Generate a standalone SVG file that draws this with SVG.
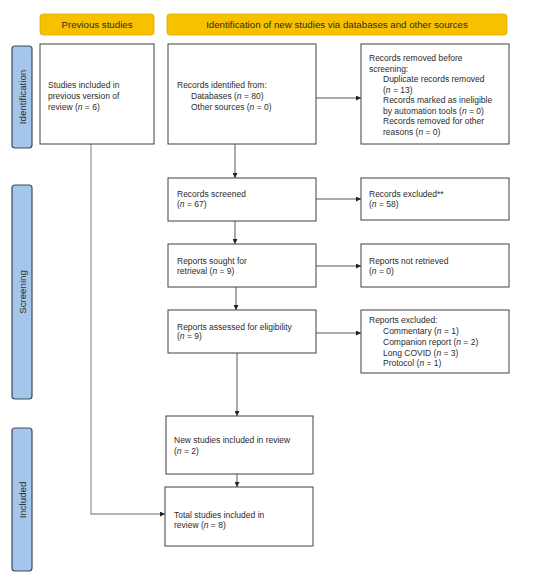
<svg xmlns="http://www.w3.org/2000/svg" width="536" height="583" viewBox="0 0 536 583">
<defs>
<style>
text{font-family:"Liberation Sans",Arial,sans-serif;font-size:8.5px;fill:#2b2b2b}
.hdr{fill:#f7c100;stroke:#e0aa00;stroke-width:0.8}
.side{fill:#a4c6ea;stroke:#3c4a5a;stroke-width:1.2}
.box{fill:#fff;stroke:#404040;stroke-width:1}
.c{fill:none;stroke:#444;stroke-width:0.9}
.g{fill:none;stroke:#9a9a9a;stroke-width:1.3}
.m{text-anchor:middle}
.big{font-size:9.7px}
</style>
<marker id="ah" viewBox="0 0 10 10" refX="10" refY="5" markerWidth="5" markerHeight="5" orient="auto" markerUnits="userSpaceOnUse">
<path d="M0,0 L10,5 L0,10 z" fill="#222"/>
</marker>
</defs>
<rect width="536" height="583" fill="#fff"/>

<g id="hdr-prev"><rect class="hdr" x="40" y="14" width="114" height="21" rx="3"/><text class="m big" x="97" y="28">Previous studies</text></g>
<g id="hdr-new"><rect class="hdr" x="167" y="14" width="340" height="21" rx="3"/><text class="m big" x="337" y="28">Identification of new studies via databases and other sources</text></g>

<g id="side-ident"><rect class="side" x="12" y="46" width="20" height="102" rx="3"/><text class="m big" transform="translate(25.5,97) rotate(-90)">Identification</text></g>
<g id="side-screen"><rect class="side" x="12" y="185" width="20" height="214" rx="3"/><text class="m big" transform="translate(25.5,292) rotate(-90)">Screening</text></g>
<g id="side-incl"><rect class="side" x="12" y="428" width="20" height="143" rx="3"/><text class="m big" transform="translate(25.5,500) rotate(-90)">Included</text></g>

<g id="connectors">
<path class="c" d="M316,98 H361" marker-end="url(#ah)"/>
<path class="c" d="M235,144 V178" marker-end="url(#ah)"/>
<path class="c" d="M316,199 H361" marker-end="url(#ah)"/>
<path class="c" d="M235,221 V244" marker-end="url(#ah)"/>
<path class="c" d="M316,266 H361" marker-end="url(#ah)"/>
<path class="c" d="M236,287 V310" marker-end="url(#ah)"/>
<path class="c" d="M316,333 H361" marker-end="url(#ah)"/>
<path class="c" d="M237,353 V416" marker-end="url(#ah)"/>
<path class="c" d="M237,474 V487" marker-end="url(#ah)"/>
<path class="g" d="M91,144 V514 H165" marker-end="url(#ah)"/>
</g>

<g id="prev-studies"><rect class="box" x="40" y="44" width="114" height="100"/>
<text x="48" y="87.5">Studies included in</text><text x="48" y="98.5">previous version of</text><text x="48" y="109.5">review (<tspan font-style="italic">n</tspan> = 6)</text></g>

<g id="records-identified"><rect class="box" x="168" y="44" width="148" height="100"/>
<text x="177" y="87.5">Records identified from:</text><text x="191" y="98.5">Databases (<tspan font-style="italic">n</tspan> = 80)</text><text x="191" y="109.5">Other sources (<tspan font-style="italic">n</tspan> = 0)</text></g>

<g id="records-removed"><rect class="box" x="361" y="44" width="148" height="100"/>
<text x="369" y="61">Records removed before</text><text x="369" y="71.5">screening:</text>
<text x="383" y="82">Duplicate records removed</text><text x="383" y="92.5">(<tspan font-style="italic">n</tspan> = 13)</text>
<text x="383" y="103">Records marked as ineligible</text><text x="383" y="113.5">by automation tools (<tspan font-style="italic">n</tspan> = 0)</text>
<text x="383" y="124">Records removed for other</text><text x="383" y="134.5">reasons (<tspan font-style="italic">n</tspan> = 0)</text></g>

<g id="records-screened"><rect class="box" x="168" y="178" width="148" height="43"/>
<text x="177" y="197">Records screened</text><text x="177" y="207">(<tspan font-style="italic">n</tspan> = 67)</text></g>

<g id="records-excluded"><rect class="box" x="361" y="178" width="148" height="42"/>
<text x="369" y="197">Records excluded**</text><text x="369" y="207">(<tspan font-style="italic">n</tspan> = 58)</text></g>

<g id="reports-sought"><rect class="box" x="168" y="244" width="148" height="43"/>
<text x="177" y="264">Reports sought for</text><text x="177" y="273.5">retrieval (<tspan font-style="italic">n</tspan> = 9)</text></g>

<g id="reports-not-retrieved"><rect class="box" x="361" y="244" width="148" height="43"/>
<text x="369" y="264">Reports not retrieved</text><text x="369" y="274">(<tspan font-style="italic">n</tspan> = 0)</text></g>

<g id="reports-assessed"><rect class="box" x="168" y="310" width="148" height="43"/>
<text x="177" y="329.5">Reports assessed for eligibility</text><text x="177" y="338.5">(<tspan font-style="italic">n</tspan> = 9)</text></g>

<g id="reports-excluded"><rect class="box" x="361" y="310" width="148" height="63"/>
<text x="369" y="323">Reports excluded:</text>
<text x="383" y="334">Commentary (<tspan font-style="italic">n</tspan> = 1)</text>
<text x="383" y="345">Companion report (<tspan font-style="italic">n</tspan> = 2)</text>
<text x="383" y="355.5">Long COVID (<tspan font-style="italic">n</tspan> = 3)</text>
<text x="383" y="366">Protocol (<tspan font-style="italic">n</tspan> = 1)</text></g>

<g id="new-studies"><rect class="box" x="166" y="416" width="147" height="58"/>
<text x="174" y="443">New studies included in review</text><text x="174" y="453.5">(<tspan font-style="italic">n</tspan> = 2)</text></g>

<g id="total-studies"><rect class="box" x="165" y="487" width="148" height="59"/>
<text x="174" y="517.5">Total studies included in</text><text x="174" y="528">review (<tspan font-style="italic">n</tspan> = 8)</text></g>
</svg>
